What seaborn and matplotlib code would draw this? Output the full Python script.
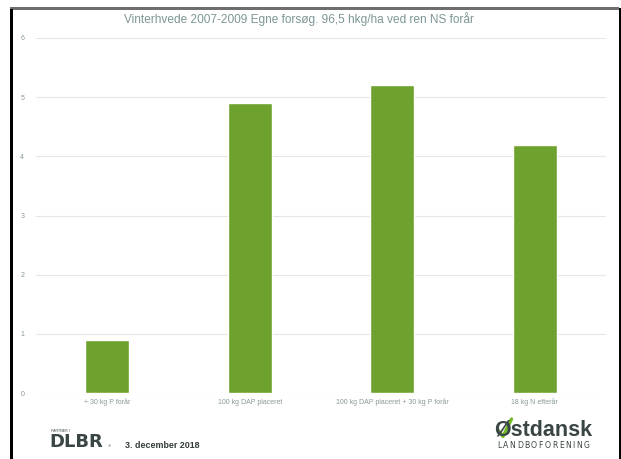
import matplotlib
matplotlib.use("Agg")
import matplotlib.pyplot as plt
import seaborn as sns
import pandas as pd
from matplotlib.patches import Rectangle
from matplotlib.lines import Line2D

# data
kategorier = ["+ 30 kg P forår", "100 kg DAP placeret",
              "100 kg DAP placeret + 30 kg P forår", "18 kg N efterår"]
merudbytte = [0.9, 4.9, 5.2, 4.2]
y_ticks = [0, 1, 2, 3, 4, 5, 6]
titel = "Vinterhvede 2007-2009 Egne forsøg. 96,5 hkg/ha ved ren NS forår"
dato = "3. december 2018"

sns.set_theme(style="white")
plt.rcParams['font.family'] = ['Liberation Sans', 'DejaVu Sans']

W, H = 621, 459
fig = plt.figure(figsize=(W / 100, H / 100), dpi=100)
fig.patch.set_facecolor("white")

# frame around the slide
fig.add_artist(Rectangle((10 / W, 1 - 10 / H), 609 / W, 3 / H, transform=fig.transFigure,
                         facecolor="#6e6e6e", edgecolor="none"))
fig.add_artist(Rectangle((10 / W, 0), 3 / W, 1 - 9 / H, transform=fig.transFigure,
                         facecolor="black", edgecolor="none"))
fig.add_artist(Rectangle((618.5 / W, 0), 2.5 / W, 1 - 8 / H, transform=fig.transFigure,
                         facecolor="black", edgecolor="none"))

ax = fig.add_axes([36 / W, 1 - 393 / H, 570 / W, 355 / H])
df = pd.DataFrame({"kategori": kategorier, "vaerdi": merudbytte})
sns.barplot(data=df, x="kategori", y="vaerdi", color="#6ea22e", saturation=1,
            width=0.31, ax=ax, zorder=3)

ax.set_ylim(0, 6)
ax.set_yticks(y_ticks)
ax.set_xlabel("")
ax.set_ylabel("")
for s in ax.spines.values():
    s.set_visible(False)
ax.yaxis.grid(True, color="#e6e6e6", linewidth=0.8, zorder=0)
ax.set_axisbelow(True)
ax.tick_params(axis="y", length=0, pad=8.5, labelsize=5, labelcolor="#8a9898")
ax.tick_params(axis="x", length=0, pad=4, labelsize=5, labelcolor="#8a9898")

fig.text(299 / W, 1 - 19 / H, titel, ha="center", va="center", fontsize=8.6, color="#7d9696")

# footer
mork = "#3a4545"
fig.text(51 / W, 1 - 432 / H, "PARTNER I", fontsize=2.6, color=mork, va="baseline")
fig.text(49 / W, 1 - 447 / H, "DLBR", fontsize=13, fontweight="bold", color=mork,
         va="baseline", family="DejaVu Sans")
fig.text(108 / W, 1 - 447 / H, "®", fontsize=3, color=mork, va="baseline")
fig.text(125 / W, 1 - 445 / H, dato, fontsize=6.4, fontweight="bold", color="#333b3b", va="center")

fig.text(494 / W, 1 - 430 / H, "Østdansk", fontsize=15.5, fontweight="bold", color=mork,
         va="center")

# spaced-out letters under the logo
renderer = fig.canvas.get_renderer()
x = 497.0
for b in "LANDBOFORENING":
    t = fig.text(x / W, 1 - 447.5 / H, b, fontsize=5.6, color=mork,
                 va="baseline", family="DejaVu Sans")
    x += t.get_window_extent(renderer).width + 1.5

fig.add_artist(Line2D([497.5 / W, 503 / W, 511.5 / W], [1 - 429.5 / H, 1 - 436.5 / H, 1 - 419 / H],
                      transform=fig.transFigure, color="#72bd22", linewidth=2.4,
                      solid_capstyle="round", solid_joinstyle="round"))

fig.savefig("out.png", dpi=100)
